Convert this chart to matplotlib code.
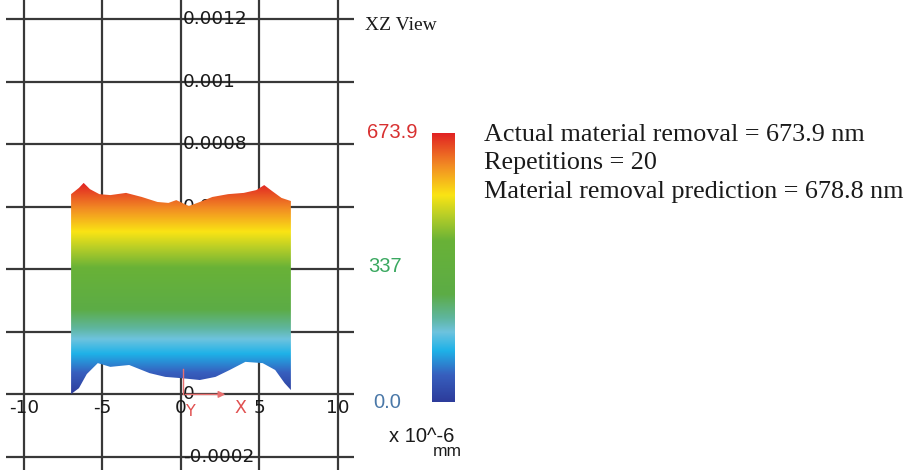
import numpy as np
import matplotlib
matplotlib.use("Agg")
import matplotlib.pyplot as plt
from matplotlib.colors import LinearSegmentedColormap, Normalize

# ---- data (x in mm, height in mm) ----
top_x = [-7.0, -6.5, -6.2, -5.8, -5.2, -4.5, -3.5, -2.5, -1.5, -0.8, -0.3,
         0.5, 1.2, 2.0, 3.0, 4.0, 4.8, 5.3, 5.8, 6.4, 7.0]
top_z = [0.000640, 0.000660, 0.000676, 0.000656, 0.000640, 0.000637, 0.000644,
         0.000631, 0.000615, 0.000612, 0.000621, 0.000602, 0.000615, 0.000631,
         0.000640, 0.000644, 0.000653, 0.000669, 0.000650, 0.000628, 0.000618]

bottom_x = [-7.0, -6.5, -6.0, -5.3, -4.5, -3.3, -2.0, -1.0, 0.0, 1.2, 2.2,
            3.1, 4.1, 5.2, 6.0, 6.6, 7.0]
bottom_z = [0.000001, 0.000020, 0.000065, 0.000100, 0.000088, 0.000094,
            0.000068, 0.000056, 0.000052, 0.000046, 0.000056, 0.000078,
            0.000104, 0.000100, 0.000078, 0.000036, 0.000014]

x_ticks = [-10, -5, 0, 5, 10]
y_ticks = [-0.0002, 0, 0.0002, 0.0004, 0.0006, 0.0008, 0.001, 0.0012]
y_tick_labels = ["-0.0002", "0", "0.0002", "0.0004", "0.0006", "0.0008", "0.001", "0.0012"]

cbar_min = 0.0
cbar_max = 673.9        # x 10^-6 mm
cbar_mid = 337

info_lines = ["Actual material removal = 673.9 nm",
              "Repetitions = 20",
              "Material removal prediction = 678.8 nm"]

# ---- colormap like the viewer's rainbow ----
cmap = LinearSegmentedColormap.from_list("viewer", [
    (0.00, (45/255, 60/255, 155/255)),
    (0.10, (55/255, 95/255, 190/255)),
    (0.19, (30/255, 178/255, 232/255)),
    (0.26, (110/255, 195/255, 222/255)),
    (0.31, (95/255, 182/255, 160/255)),
    (0.40, (92/255, 172/255, 70/255)),
    (0.60, (105/255, 178/255, 55/255)),
    (0.69, (180/255, 205/255, 40/255)),
    (0.77, (250/255, 228/255, 20/255)),
    (0.88, (242/255, 140/255, 35/255)),
    (1.00, (225/255, 35/255, 35/255)),
])

W, H = 910, 470
fig = plt.figure(figsize=(W / 100, H / 100), dpi=100)

# ---- main view ----
ax = fig.add_axes([6 / W, 0, 348 / W, 1])
ax.set_xlim(-11.146, 11.02)
ax.set_ylim(-0.0002416, 0.0012605)
ax.set_xticks(x_ticks)
ax.set_yticks(y_ticks)
ax.tick_params(length=0, labelbottom=False, labelleft=False)
ax.grid(True, color="#383838", lw=1.6, zorder=0)
ax.set_axisbelow(True)
for s in ax.spines.values():
    s.set_visible(False)

tick_font = dict(family="DejaVu Sans", fontsize=13.3, color="#1a1a1a", zorder=1)
for yv, lab in zip(y_ticks, y_tick_labels):
    ax.text(0.13, yv, lab, ha="left", va="center", **tick_font)
for xv in x_ticks:
    ax.text(xv, -0.0000435, str(xv), ha="center", va="center", **tick_font)

# point cloud: colour = height, clipped to the measured outline
poly_x = np.concatenate([top_x, bottom_x[::-1]])
poly_z = np.concatenate([top_z, bottom_z[::-1]])
outline = ax.fill(poly_x, poly_z, facecolor="none", edgecolor="none")[0]
zmax = cbar_max * 1e-6
grad = np.linspace(0, 1, 512).reshape(-1, 1)
im = ax.imshow(grad * zmax, cmap=cmap, norm=Normalize(0, zmax), origin="lower",
               extent=[min(top_x), max(top_x), 0, zmax], aspect="auto",
               interpolation="bilinear", zorder=3)
im.set_clip_path(outline)

# small red axis triad
ax.annotate("", xy=(3.0, 0), xytext=(0.1, 0),
            arrowprops=dict(arrowstyle="-|>", color="#e87070", lw=1.0), zorder=4)
ax.plot([0.1, 0.1], [0, 0.00008], color="#e87070", lw=1.0, zorder=4)
ax.text(3.8, -0.0000435, "X", color="#e05050", fontsize=12.5, ha="center", va="center",
        family="DejaVu Sans", zorder=4)
ax.text(0.6, -0.000054, "Y", color="#e05050", fontsize=11.5, ha="center", va="center",
        family="DejaVu Sans", zorder=4)

# ---- colour bar ----
cax = fig.add_axes([432 / W, (H - 402) / H, 23 / W, 269 / H])
cax.imshow(grad, cmap=cmap, origin="lower", aspect="auto", extent=[0, 1, 0, 1])
cax.set_axis_off()

lab_font = dict(family="Liberation Sans", fontsize=14.5, va="center", ha="left")
fig.text(367 / W, 1 - 132 / H, f"{cbar_max:.1f}", color="#d83030", **lab_font)
fig.text(368 / W, 1 - 267 / H, f"{cbar_mid}", color="#3aa860", **lab_font)
fig.text(373 / W, 1 - 402 / H, f"{cbar_min:.1f}", color="#4a78a8", **lab_font)
fig.text(389 / W, 1 - 437 / H, "x 10^-6", color="#1a1a1a", **lab_font)
fig.text(433 / W, 1 - 452 / H, "mm", color="#1a1a1a",
         **{**lab_font, "fontsize": 12.5})

fig.text(365 / W, 1 - 25 / H, "XZ View", family="Liberation Serif", fontsize=14,
         va="center", ha="left", color="#1a1a1a")

for i, line in enumerate(info_lines):
    fig.text(484 / W, 1 - (135 + 28.5 * i) / H, line, family="Liberation Serif",
             fontsize=18.8, va="center", ha="left", color="#1a1a1a")

fig.savefig("out.png", dpi=100)
